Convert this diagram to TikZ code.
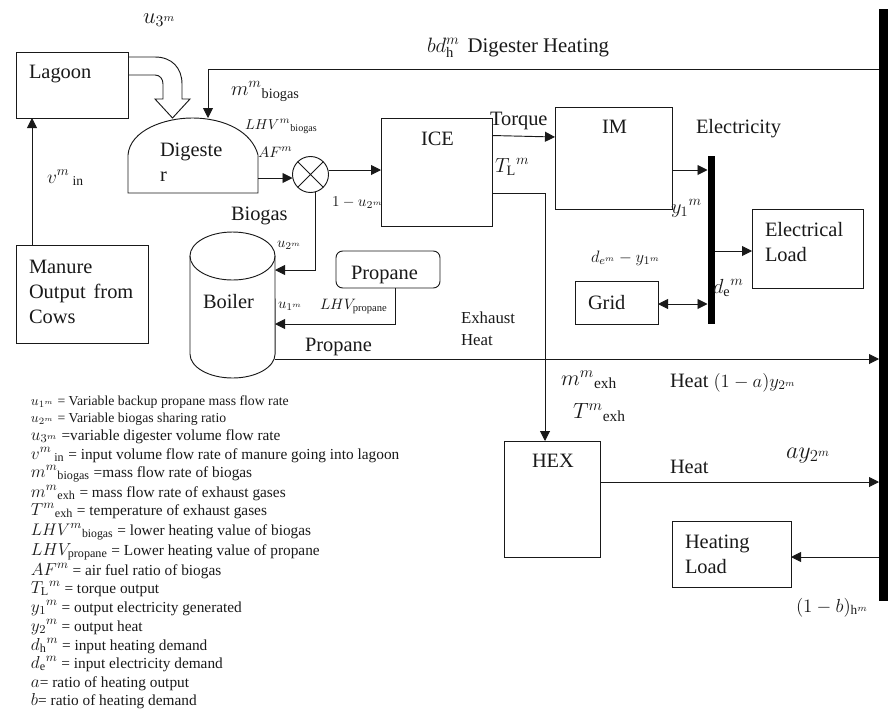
\documentclass[tikz,border=0pt]{standalone}
\usepackage{fix-cm}
\usepackage{fontspec}
\setmainfont{Liberation Serif}
\usetikzlibrary{arrows.meta,calc,fit}
\definecolor{ink}{gray}{0.1}
\newcommand{\fsz}[1]{\fontsize{#1}{#1}\selectfont}
\newcommand{\lm}[2][13]{{\fsz{#1}$#2$}}
\tikzset{
  x=.75pt,y=-.75pt,
  every node/.style={inner sep=0pt,outer sep=0pt,text=ink},
  box/.style={draw=ink,line width=.7pt,fill=white,inner sep=0pt},
  ghost/.style={inner sep=0pt},
  solidbar/.style={fill=black,inner sep=0pt},
  line/.style={draw=ink,line width=.7pt},
  arr/.style={line,-{Triangle[length=7.5pt,width=7.5pt]}},
  darr/.style={line,{Triangle[length=7.5pt,width=7.5pt]}-{Triangle[length=7.5pt,width=7.5pt]}},
  big/.style={anchor=base west,font=\fsz{15.3}},
  multi/.style={anchor=north west,align=left,font=\fsz{15.3}},
  small/.style={anchor=base west,font=\fsz{11.3}},
  tiny/.style={anchor=base west,font=\fsz{11}},
  legA/.style={anchor=base west,font=\fsz{10.3}},
  legB/.style={anchor=base west,font=\fsz{11.5}},
}
\begin{document}
\begin{tikzpicture}
\useasboundingbox (0,0) rectangle (888,711);
% boxes
\node[box,fit={(16,52)(128,118)}] (lagoon) {};
\node[box,fit={(16,245)(148,343)}] (manure) {};
\node[box,fit={(381,118)(492,226)}] (ice) {};
\node[box,fit={(555,107)(672,209)}] (im) {};
\node[box,fit={(752,209)(863,288)}] (elec) {};
\node[box,fit={(575,281)(658,324)}] (grid) {};
\node[box,fit={(504,441)(600,557)}] (hex) {};
\node[box,fit={(672,521)(791,587)}] (heatload) {};
\node[box,rounded corners=5pt,fit={(336,251)(440,288)}] (propanebox) {};
\node[solidbar,fit={(707.5,156)(715,324)}] (bus) {};
\node[solidbar,fit={(879,9)(888,601)}] (rail) {};
% digester
\node[ghost,fit={(128,118)(258,193)}] (digester) {};
\draw[line] (digester.south west) -- (128,155) .. controls (130,130) and (165,118) .. (192,118)
  .. controls (225,118) and (252,132) .. (258,155) -- (digester.south east) -- cycle;
% boiler
\node[ghost,fit={(190,232)(275,378)}] (boiler) {};
\draw[line] (232.5,256) ellipse [x radius=31.9pt,y radius=18pt];
\draw[line] (190,256) -- (190,354) arc[start angle=180,end angle=360,x radius=31.9pt,y radius=18pt] -- (275,256);
% mixer
\node[draw=ink,line width=.7pt,circle,minimum size=27pt] (mixer) at (310.5,174.5) {};
\draw[line] (mixer.45) -- (mixer.225) (mixer.135) -- (mixer.315);
% wide feed arrow
\draw[line] (128,57) -- (155,57) .. controls (172,57) and (182,68) .. (182,84) -- (182,99) -- (190,99)
  -- (172.5,118) -- (155,99) -- (163,99) -- (163,84) .. controls (163,79) and (160,75) .. (155,75) -- (128,75);
% connectors
\draw[arr] ($(manure.north west)+(16,0)$) -- ($(lagoon.south west)+(16,0)$);
\draw[arr] (rail.west |- 0,69) -- (208,69) -- ($(digester.north west)+(80,0)$);
\draw[arr] ($(digester.south east)+(0,-15)$) -- (mixer.west |- 0,178);
\draw[arr] (mixer.east |- 0,170) -- (ice.west |- 0,170);
\draw[arr] (315.5,192) -- (315.5,270) -- (boiler.east |- 0,270);
\draw[arr] (395,288) -- (395,324) -- (boiler.east |- 0,324);
\draw[arr] (boiler.east |- 0,359) -- (rail.west |- 0,359);
\draw[arr] (ice.east |- 0,135.5) -- (im.west |- 0,137);
\draw[arr] (im.east |- 0,170) -- (bus.west |- 0,170);
\draw[arr] (bus.east |- 0,251) -- (elec.west |- 0,251);
\draw[darr] (grid.east |- 0,304) -- (bus.west |- 0,304);
\draw[arr] (ice.east |- 0,193) -- (545,193) -- (545,441);
\draw[arr] (hex.east |- 0,482) -- (rail.west |- 0,482);
\draw[arr] (rail.west |- 0,557) -- (heatload.east |- 0,557);
% box texts
\node[big] (tlagoon) at (29,78) {Lagoon};
\node[multi] (tmanure) at (29,260) {Manure\\[3.45pt]Output\hspace{6pt}from\\[3.45pt]Cows};
\node[multi] (tdig) at (160,143) {Digeste\\[3.45pt]r};
\node[big] (tice) at (421,145) {ICE};
\node[big] (tim) at (602,133) {IM};
\node[big] (tboiler) at (203,308) {Boiler};
\node[big] (tprop) at (351,279) {Propane};
\node[big] (tgrid) at (588,309) {Grid};
\node[multi] (telec) at (765,222) {Electrical\\[3.45pt]Load};
\node[big] (thex) at (532,467) {HEX};
\node[multi] (theat) at (685,534.5) {Heating\\[3.45pt]Load};
% labels
\node[big] (a1) at (143,23) {\lm[17]{u_{3^{m}}}};
\node[big,font=\fsz{15.6}] (a2) at (427,52) {$bd_{\mathrm{h}}^{m}$\hspace{2pt} Digester Heating};
\node[big] (a3) at (47,183) {\lm[14.5]{v^{m}\,{}_{\mathrm{in}}}};
\node[big] (a4) at (231,95) {$m^{m}{}_{\mathrm{biogas}}$};
\node[small,font=\fsz{10.8}] (a5) at (245,129) {$LHV^{m}{}_{\mathrm{biogas}}$};
\node[small] (a6) at (258,157) {$AF^{m}$};
\node[big] (a7) at (231,220) {Biogas};
\node[small] (a8) at (332,206) {$1-u_{2^{m}}$};
\node[tiny] (a9) at (277,247) {$u_{2^{m}}$};
\node[tiny] (a10) at (278,308) {$u_{1^{m}}$};
\node[small] (a11) at (320,309) {$LHV_{\mathrm{propane}}$};
\node[big] (a12) at (305,351) {Propane};
\node[big] (a13) at (490,125) {Torque};
\node[big] (a14) at (495,172) {$T_{\mathrm{L}}{}^{m}$};
\node[big] (a15) at (696,133) {Electricity};
\node[big] (a16) at (671,213) {$y_{1}{}^{m}$};
\node[small,font=\fsz{12.4}] (a17) at (591,262) {$d_{e^{m}}-y_{1^{m}}$};
\node[big] (a18) at (713,293) {$d_{\mathrm{e}}{}^{m}$};
\node[multi,font=\fsz{12.6}] (a19) at (461,312) {Exhaust\\[3.5pt]Heat};
\node[big,font=\fsz{16.5}] (a20) at (561,385) {$m^{m}{}_{\mathrm{exh}}$};
\node[big,font=\fsz{16.5}] (a21) at (573,418) {$T^{m}{}_{\mathrm{exh}}$};
\node[big] (a22) at (670,387) {Heat \lm[14]{(1-a)y_{2^{m}}}};
\node[big] (a23) at (670,473) {Heat};
\node[big] (a24) at (786,458) {\lm[18]{ay_{2^{m}}}};
\node[small,font=\fsz{14.2}] (a25) at (796,612) {$(1-b)_{\mathrm{h}^{m}}$};
% legend
\node[legA] (l1) at (31,405) {$u_{1^{m}}$ = Variable backup propane mass flow rate};
\node[legA] (l2) at (31,422) {$u_{2^{m}}$ = Variable biogas sharing ratio};
\node[legB] (l3) at (31,440) {\lm{u_{3^{m}}} =variable digester volume flow rate};
\node[legB] (l4) at (31,459) {\lm{v^{m}\,{}_{\mathrm{in}}} = input volume flow rate of manure going into lagoon};
\node[legB] (l5) at (31,477) {\lm{m^{m}{}_{\mathrm{biogas}}} =mass flow rate of biogas};
\node[legB] (l6) at (31,497) {\lm{m^{m}{}_{\mathrm{exh}}} = mass flow rate of exhaust gases};
\node[legB] (l7) at (31,515) {\lm{T^{m}{}_{\mathrm{exh}}} = temperature of exhaust gases};
\node[legB] (l8) at (31,535) {\lm[12.6]{LHV^{m}{}_{\mathrm{biogas}}} = lower heating value of biogas};
\node[legB] (l9) at (31,555) {\lm{LHV_{\mathrm{propane}}} = Lower heating value of propane};
\node[legB] (l10) at (31,575) {\lm{AF^{m}} = air fuel ratio of biogas};
\node[legB] (l11) at (31,593) {\lm{T_{\mathrm{L}}{}^{m}} = torque output};
\node[legB] (l12) at (31,612) {\lm{y_{1}{}^{m}} = output electricity generated};
\node[legB] (l13) at (31,631) {\lm{y_{2}{}^{m}} = output heat};
\node[legB] (l14) at (31,650) {\lm{d_{\mathrm{h}}{}^{m}} = input heating demand};
\node[legB] (l15) at (31,668) {\lm{d_{\mathrm{e}}{}^{m}} = input electricity demand};
\node[legB] (l16) at (31,687) {\lm{a}= ratio of heating output};
\node[legB] (l17) at (31,705) {\lm{b}= ratio of heating demand};
\end{tikzpicture}
\end{document}
